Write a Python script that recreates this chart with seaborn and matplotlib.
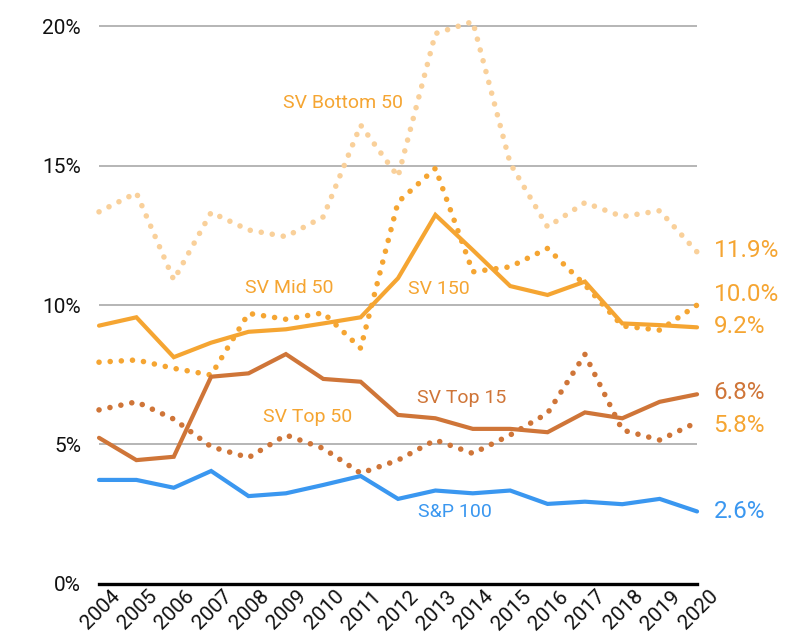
import matplotlib
matplotlib.use("Agg")
import matplotlib.pyplot as plt
import matplotlib.transforms as mtransforms
import seaborn as sns
import pandas as pd

# data (percent)
years = list(range(2004, 2021))
sp100 = [3.73, 3.73, 3.45, 4.05, 3.15, 3.25, 3.55, 3.87, 3.05, 3.35, 3.25, 3.35, 2.87, 2.95, 2.86, 3.05, 2.6]
sv_top15 = [5.24, 4.44, 4.56, 7.43, 7.55, 8.24, 7.35, 7.25, 6.06, 5.94, 5.56, 5.56, 5.44, 6.15, 5.94, 6.53, 6.8]
sv_top50 = [6.24, 6.53, 5.91, 4.92, 4.53, 5.34, 4.86, 3.97, 4.44, 5.16, 4.68, 5.34, 6.12, 8.23, 5.52, 5.16, 5.8]
sv_150 = [9.26, 9.56, 8.13, 8.65, 9.04, 9.13, 9.34, 9.56, 10.96, 13.23, 11.97, 10.68, 10.36, 10.84, 9.34, 9.28, 9.2]
sv_mid50 = [7.95, 8.03, 7.73, 7.49, 9.7, 9.49, 9.72, 8.45, 13.69, 14.9, 11.19, 11.37, 12.03, 10.72, 9.25, 9.1, 10.0]
sv_bottom50 = [13.34, 14.02, 10.9, 13.32, 12.69, 12.45, 13.16, 16.45, 14.6, 19.73, 20.16, 15.08, 12.8, 13.67, 13.17, 13.38, 11.9]

end_labels = ["11.9%", "10.0%", "9.2%", "6.8%", "5.8%", "2.6%"]
end_label_y = [11.94, 10.36, 9.22, 6.86, 5.67, 2.59]

BLUE = "#3a97f0"
BROWN = "#cf7538"
ORANGE = "#f5a532"
PEACH = "#f9d09a"

df = pd.DataFrame({
    "year": years,
    "S&P 100": sp100,
    "SV Top 15": sv_top15,
    "SV Top 50": sv_top50,
    "SV 150": sv_150,
    "SV Mid 50": sv_mid50,
    "SV Bottom 50": sv_bottom50,
})

sns.set_theme(style="white")
plt.rcParams["font.family"] = ["Roboto", "DejaVu Sans"]

fig = plt.figure(figsize=(7.94, 6.36), dpi=100)
ax = fig.add_axes([0.1247, 0.0818, 0.7532, 0.886])

dotted = (0, (0.01, 2.0))
series = [
    ("SV Bottom 50", PEACH, dotted),
    ("SV Mid 50", ORANGE, dotted),
    ("SV Top 50", BROWN, dotted),
    ("SV 150", ORANGE, "-"),
    ("SV Top 15", BROWN, "-"),
    ("S&P 100", BLUE, "-"),
]
for name, color, ls in series:
    sns.lineplot(data=df, x="year", y=name, ax=ax, color=color, linestyle=ls,
                 linewidth=4.0 if ls != "-" else 3.0, clip_on=False,
                 dash_capstyle="round", solid_joinstyle="miter", legend=False)

ax.set_xlim(2004, 2020)
ax.set_ylim(0, 20.2)
ax.set_yticks([0, 5, 10, 15, 20])
ax.set_yticklabels(["0%", "5%", "10%", "15%", "20%"])
ax.set_xticks(years)
ax.set_xlabel("")
ax.set_ylabel("")
for y in [5, 10, 15, 20]:
    ax.axhline(y, color="#a9a9a9", linewidth=1.2, zorder=0)
for s in ["top", "right", "left"]:
    ax.spines[s].set_visible(False)
ax.spines["bottom"].set_color("black")
ax.spines["bottom"].set_linewidth(2.4)
ax.tick_params(axis="y", length=0, pad=13, labelsize=15, labelcolor="#111111")
ax.tick_params(axis="x", length=0, pad=2, labelsize=15, labelcolor="#111111")
offset = mtransforms.ScaledTranslation(11 / 100, 0, fig.dpi_scale_trans)
for lbl in ax.get_xticklabels():
    lbl.set_rotation(45)
    lbl.set_ha("right")
    lbl.set_va("top")
    lbl.set_rotation_mode("anchor")
    lbl.set_transform(lbl.get_transform() + offset)

# series names
names = [
    ("SV Bottom 50", 2010.52, 17.24, ORANGE),
    ("SV Mid 50", 2009.08, 10.61, ORANGE),
    ("SV 150", 2013.09, 10.57, ORANGE),
    ("SV Top 15", 2013.71, 6.67, BROWN),
    ("SV Top 50", 2009.57, 6.0, ORANGE),
    ("S&P 100", 2013.52, 2.59, BLUE),
]
for text, x, y, c in names:
    ax.text(x, y, text, color=c, fontsize=14, ha="center", va="center")

end_colors = [ORANGE, ORANGE, ORANGE, BROWN, ORANGE, BLUE]
for text, y, c in zip(end_labels, end_label_y, end_colors):
    ax.text(2020.44, y, text, color=c, fontsize=17.5,
            ha="left", va="center", clip_on=False)

fig.savefig("out.png", dpi=100)
